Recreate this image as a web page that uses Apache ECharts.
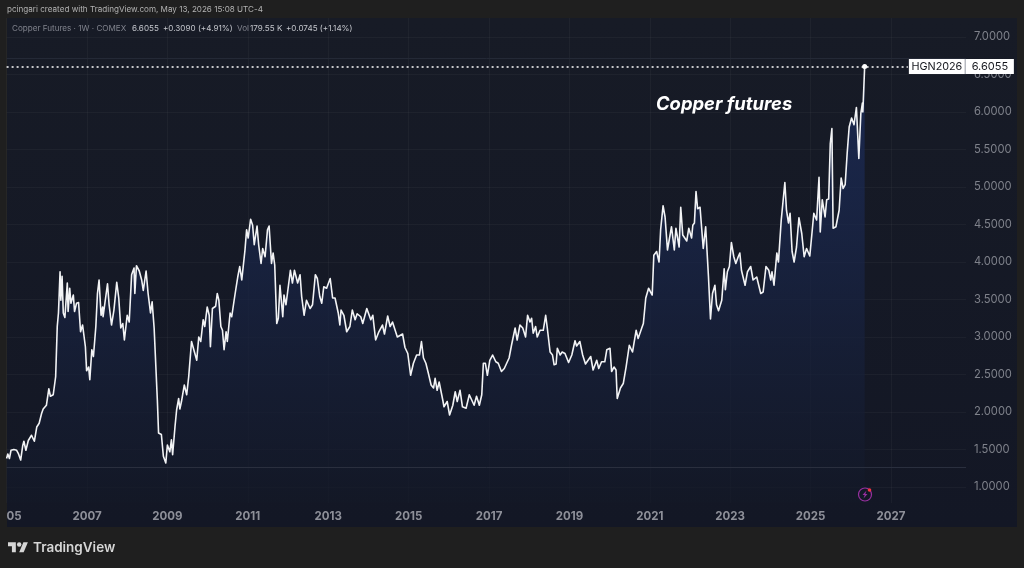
<!DOCTYPE html>
<html>
<head>
<meta charset="utf-8">
<style>html,body{margin:0;padding:0;background:#1f1f1f}#c{width:1024px;height:568px}</style>
<script src="https://cdn.jsdelivr.net/npm/echarts@6/dist/echarts.min.js"></script>
</head>
<body>
<div id="c"></div>
<script>
const years = [
2005.00,2005.03,2005.07,2005.11,2005.18,2005.25,2005.29,2005.35,2005.40,2005.43,2005.48,2005.54,2005.62,2005.69,2005.75,2005.81,2005.87,2005.91,2005.99,
2006.05,2006.09,2006.16,2006.22,2006.26,2006.29,2006.33,2006.35,2006.38,2006.41,2006.45,2006.51,2006.53,2006.57,2006.60,2006.66,2006.69,2006.74,2006.79,2006.84,2006.89,2006.96,2006.99,
2007.04,2007.07,2007.12,2007.16,2007.22,2007.26,2007.30,2007.35,2007.39,2007.40,2007.44,2007.51,2007.55,2007.61,2007.67,2007.74,2007.79,2007.84,2007.89,2007.93,
2008.00,2008.05,2008.11,2008.17,2008.19,2008.23,2008.30,2008.36,2008.40,2008.47,2008.52,2008.58,2008.62,2008.67,2008.71,2008.75,2008.78,2008.85,2008.90,2008.96,
2009.00,2009.06,2009.10,2009.13,2009.19,2009.23,2009.28,2009.31,2009.35,2009.42,2009.48,2009.53,2009.60,2009.64,2009.73,2009.78,2009.83,2009.89,2009.93,2009.99,
2010.04,2010.07,2010.12,2010.20,2010.24,2010.28,2010.33,2010.37,2010.41,2010.46,2010.49,2010.56,2010.60,2010.66,2010.70,2010.75,2010.80,2010.85,2010.93,2010.97,
2011.01,2011.07,2011.12,2011.16,2011.23,2011.27,2011.33,2011.37,2011.43,2011.49,2011.53,2011.59,2011.63,2011.67,2011.72,2011.76,2011.80,2011.87,2011.90,2011.95,2011.99,
2012.06,2012.11,2012.16,2012.24,2012.30,2012.34,2012.40,2012.46,2012.55,2012.61,2012.68,2012.73,2012.79,2012.84,2012.89,2012.96,
2013.05,2013.11,2013.17,2013.25,2013.29,2013.32,2013.39,2013.46,2013.54,2013.60,2013.67,2013.72,2013.81,2013.86,2013.96,
2014.06,2014.11,2014.18,2014.26,2014.35,2014.40,2014.48,2014.54,2014.60,2014.72,2014.85,2014.91,2014.98,
2015.05,2015.12,2015.20,2015.27,2015.32,2015.37,2015.43,2015.49,2015.56,2015.62,2015.66,2015.71,2015.76,2015.85,2015.88,2015.96,
2016.02,2016.10,2016.16,2016.21,2016.28,2016.34,2016.43,2016.51,2016.57,2016.63,2016.69,2016.76,2016.82,2016.86,2016.91,2016.96,
2017.02,2017.09,2017.17,2017.23,2017.31,2017.38,2017.44,2017.50,2017.56,2017.65,2017.70,2017.77,2017.84,2017.91,2017.96,
2018.02,2018.06,2018.10,2018.16,2018.20,2018.27,2018.35,2018.41,2018.45,2018.52,2018.58,2018.62,2018.67,2018.70,2018.77,2018.82,2018.89,2018.98,
2019.06,2019.14,2019.18,2019.26,2019.33,2019.40,2019.53,2019.59,2019.68,2019.73,2019.80,2019.88,2019.93,
2020.01,2020.05,2020.11,2020.16,2020.19,2020.22,2020.27,2020.34,2020.41,2020.49,2020.57,2020.66,2020.71,2020.80,2020.84,2020.90,2020.97,
2021.06,2021.10,2021.17,2021.23,2021.27,2021.33,2021.38,2021.44,2021.54,2021.61,2021.65,2021.73,2021.77,2021.82,2021.92,2021.97,
2022.04,2022.07,2022.11,2022.15,2022.19,2022.25,2022.33,2022.39,2022.46,2022.51,2022.56,2022.62,2022.66,2022.71,2022.79,2022.85,2022.88,2022.93,2022.98,
2023.03,2023.09,2023.14,2023.20,2023.24,2023.28,2023.37,2023.43,2023.51,2023.57,2023.66,2023.76,2023.82,2023.89,2023.96,
2024.01,2024.04,2024.09,2024.16,2024.20,2024.27,2024.36,2024.40,2024.45,2024.49,2024.54,2024.59,2024.65,2024.71,2024.78,2024.84,2024.90,2024.98,
2025.03,2025.08,2025.15,2025.21,2025.24,2025.29,2025.36,2025.40,2025.45,2025.49,2025.53,2025.56,2025.63,2025.71,2025.76,2025.81,2025.86,2025.91,2025.96,
2026.02,2026.08,2026.14,2026.20,2026.25,2026.29,2026.30,2026.345
];
const closes = [
1.38,1.44,1.38,1.49,1.50,1.49,1.45,1.36,1.55,1.61,1.49,1.62,1.69,1.61,1.80,1.85,1.98,2.04,2.09,
2.31,2.21,2.23,2.47,3.14,3.32,3.87,3.49,3.81,3.32,3.26,3.72,3.34,3.65,3.45,3.56,3.34,3.45,3.46,3.07,3.16,2.87,2.55,
2.60,2.43,2.83,2.74,3.14,3.58,3.76,3.29,3.40,3.27,3.43,3.71,3.43,3.16,3.36,3.73,3.52,3.12,3.18,2.96,
3.29,3.20,3.83,3.92,3.58,3.95,3.88,3.76,3.62,3.88,3.58,3.32,3.47,3.12,3.12,2.16,1.72,1.70,1.41,1.32,
1.56,1.47,1.63,1.43,1.81,2.03,2.18,2.04,2.14,2.36,2.23,2.47,2.94,2.94,2.69,3.00,2.94,3.23,3.14,3.40,
3.29,2.87,3.38,3.41,3.58,3.49,3.14,3.09,2.83,3.07,2.94,3.32,3.27,3.49,3.63,3.80,3.94,3.76,4.16,4.43,
4.32,4.57,4.49,4.23,4.48,4.23,3.98,4.18,4.07,4.43,4.48,3.98,4.12,3.96,3.18,3.25,3.69,3.27,3.56,3.43,3.45,
3.89,3.72,3.89,3.72,3.83,3.54,3.29,3.49,3.38,3.43,3.83,3.78,3.54,3.45,3.67,3.65,
3.78,3.52,3.52,3.32,3.16,3.36,3.29,3.07,3.14,3.36,3.23,3.31,3.27,3.18,3.38,
3.23,3.29,2.96,3.07,3.16,3.04,3.28,3.14,3.20,3.00,3.04,2.86,2.78,
2.49,2.65,2.76,2.76,2.94,2.72,2.65,2.52,2.36,2.32,2.45,2.29,2.40,2.16,2.07,2.14,
1.96,2.09,2.27,2.14,2.29,2.07,2.05,2.23,2.16,2.09,2.21,2.09,2.23,2.65,2.65,2.49,
2.69,2.76,2.67,2.65,2.54,2.58,2.65,2.72,2.89,3.12,2.96,3.16,3.12,3.00,3.29,
3.20,3.25,3.05,3.14,3.00,3.09,3.09,3.29,3.12,2.80,2.76,2.63,2.64,2.85,2.76,2.80,2.78,2.66,
2.76,2.95,2.88,2.94,2.76,2.64,2.74,2.56,2.69,2.58,2.67,2.67,2.83,
2.85,2.54,2.60,2.56,2.18,2.18,2.32,2.38,2.60,2.89,2.80,3.09,2.98,3.12,3.18,3.52,3.65,
3.56,4.09,4.14,4.00,4.43,4.75,4.60,4.16,4.47,4.16,4.45,4.20,4.73,4.36,4.28,4.45,
4.32,4.49,4.52,4.94,4.71,4.73,4.18,4.47,3.80,3.24,3.58,3.69,3.43,3.35,3.49,3.91,3.63,3.87,3.94,
4.26,4.07,3.98,4.07,4.12,3.89,3.69,3.87,3.94,3.76,3.80,3.58,3.60,3.94,3.89,
3.76,3.87,3.69,4.12,4.00,4.56,5.06,4.69,4.52,4.65,4.14,4.00,4.20,4.59,4.38,4.07,4.18,4.08,
4.36,4.65,4.56,5.13,4.40,4.83,4.60,4.83,4.84,5.58,5.78,4.45,4.47,4.69,5.12,4.98,5.03,5.45,5.80,
5.92,5.83,6.06,5.38,5.98,6.12,6.00,6.6055
];
const priceTicks = [1,1.5,2,2.5,3,3.5,4,4.5,5,5.5,6,6.5,7];
const yearTicks = [2005,2007,2009,2011,2013,2015,2017,2019,2021,2023,2025,2027];
const lastPrice = 6.6055;
const rangeLines = [6.72,1.267];
const headerText = 'pcingari created with TradingView.com, May 13, 2026 15:08 UTC-4';

const points = years.map((y,i)=>[y,closes[i]]);
const font = 'Inter, "Noto Sans", sans-serif';
const chart = echarts.init(document.getElementById('c'),null,{renderer:'canvas'});
const gridLine = {show:true,lineStyle:{color:'rgba(255,255,255,0.035)',width:1}};
chart.setOption({
  animation:false,
  backgroundColor:'#1f1f1f',
  grid:{left:6.6,top:18,width:959.4,height:485},
  xAxis:{type:'value',min:2005,max:2028.866,
    axisLine:{show:false},
    axisTick:{show:false,customValues:yearTicks},
    splitLine:gridLine,
    axisLabel:{customValues:yearTicks,margin:8,color:'#8e9099',fontFamily:font,fontSize:11.5,fontWeight:700,
      alignMinLabel:'left',
      formatter:v=>v===2005?'05':String(v)}},
  yAxis:{type:'value',position:'right',min:0.787,max:7.253,
    axisLine:{show:false},
    axisTick:{show:false,customValues:priceTicks},
    splitLine:gridLine,
    axisLabel:{customValues:priceTicks,margin:8,color:'#7f828b',fontFamily:font,fontSize:11.2,padding:[3,0,0,0],
      formatter:v=>v.toFixed(4)}},
  series:[{
    type:'line',data:points,showSymbol:false,smooth:false,z:2,
    lineStyle:{color:'#f2f3f5',width:1.6,join:'round'},
    areaStyle:{color:new echarts.graphic.LinearGradient(0,0,0,1,[
      {offset:0,color:'#1d2f62'},{offset:1,color:'#131826'}])},
    markLine:{silent:true,symbol:'none',animation:false,z:5,
      data:[
        [{coord:[2005,rangeLines[0]],lineStyle:{color:'#242936',type:'solid',width:1},label:{show:false}},
         {coord:[2028.866,rangeLines[0]]}],
        [{coord:[2005,rangeLines[1]],lineStyle:{color:'#2a2f3e',type:'solid',width:1},label:{show:false}},
         {coord:[2028.866,rangeLines[1]]}],
        [{coord:[2005,lastPrice],lineStyle:{color:'#ffffff',type:[2,3],width:1.6},
          label:{show:true,position:'end',distance:1,
            formatter:'{a|HGN2026}{d| }{b|'+lastPrice.toFixed(4)+'}',
            rich:{
              a:{color:'#16181f',fontFamily:font,fontSize:10.8,width:56,height:15,lineHeight:15,align:'center',backgroundColor:'#ffffff'},
              d:{width:1,height:15,lineHeight:15,fontSize:1,backgroundColor:'#c4c7ce'},
              b:{color:'#16181f',fontFamily:font,fontSize:11,width:48,height:15,lineHeight:15,align:'center',backgroundColor:'#ffffff'}
            }}},
         {coord:[2027.42,lastPrice]}]
      ]},
    markPoint:{silent:true,animation:false,symbol:'circle',symbolSize:5,z:6,
      itemStyle:{color:'#ffffff'},label:{show:false},
      data:[{coord:[years[years.length-1],lastPrice]}]}
  }],
  graphic:[
    {type:'rect',z:-1,silent:true,shape:{x:7,y:18,width:1010,height:509},
      style:{fill:new echarts.graphic.LinearGradient(0,0,0,1,[
        {offset:0,color:'#171b26'},{offset:1,color:'#131725'}])}},
    {type:'text',z:100,silent:true,x:7,y:6,style:{text:headerText,fill:'#b2b2b2',font:'400 8.1px '+font}},
    {type:'text',z:100,silent:true,x:12,y:25,style:{text:'Copper Futures · 1W · COMEX',fill:'#80838d',font:'400 8.1px '+font}},
    {type:'text',z:100,silent:true,x:132,y:25,style:{text:'6.6055',fill:'#c4c6cc',font:'400 8.1px '+font}},
    {type:'text',z:100,silent:true,x:163,y:25,style:{text:'+0.3090 (+4.91%)',fill:'#c4c6cc',font:'400 8.1px '+font}},
    {type:'text',z:100,silent:true,x:237,y:25,style:{text:'Vol',fill:'#80838d',font:'400 8.1px '+font}},
    {type:'text',z:100,silent:true,x:250,y:25,style:{text:'179.55 K',fill:'#c4c6cc',font:'400 8.1px '+font}},
    {type:'text',z:100,silent:true,x:286,y:25,style:{text:'+0.0745 (+1.14%)',fill:'#c4c6cc',font:'400 8.1px '+font}},
    {type:'text',z:100,silent:true,x:656,y:95,style:{text:'Copper futures',fill:'#ffffff',font:'italic 700 18.4px '+font}},
    {type:'text',z:100,silent:true,x:33,y:541,style:{text:'TradingView',fill:'#d6d6d6',font:'600 13.5px '+font}},
    {type:'group',z:100,x:8,y:540,scaleX:0.56,scaleY:0.56,silent:true,children:[
      {type:'polygon',z:100,shape:{points:[[0,4],[14,4],[14,22],[7,22],[7,11],[0,11]]},style:{fill:'#d6d6d6'}},
      {type:'polygon',z:100,shape:{points:[[27.5,4],[35.5,4],[28,22],[20,22]]},style:{fill:'#d6d6d6'}},
      {type:'circle',z:100,shape:{cx:20,cy:8,r:4},style:{fill:'#d6d6d6'}}
    ]},
    {type:'circle',z:100,silent:true,shape:{cx:865,cy:494.5,r:6.5},style:{fill:'rgba(0,0,0,0)',stroke:'#97309f',lineWidth:1.2}},
    {type:'polygon',z:100,silent:true,shape:{points:[[866.5,490.5],[862.5,495],[864.7,495],[863.5,498.5],[867.5,494],[865.3,494]]},style:{fill:'#97309f'}},
    {type:'circle',z:101,silent:true,shape:{cx:869.5,cy:490,r:1.8},style:{fill:'#f23645'}}
  ]
});
</script>
</body>
</html>
